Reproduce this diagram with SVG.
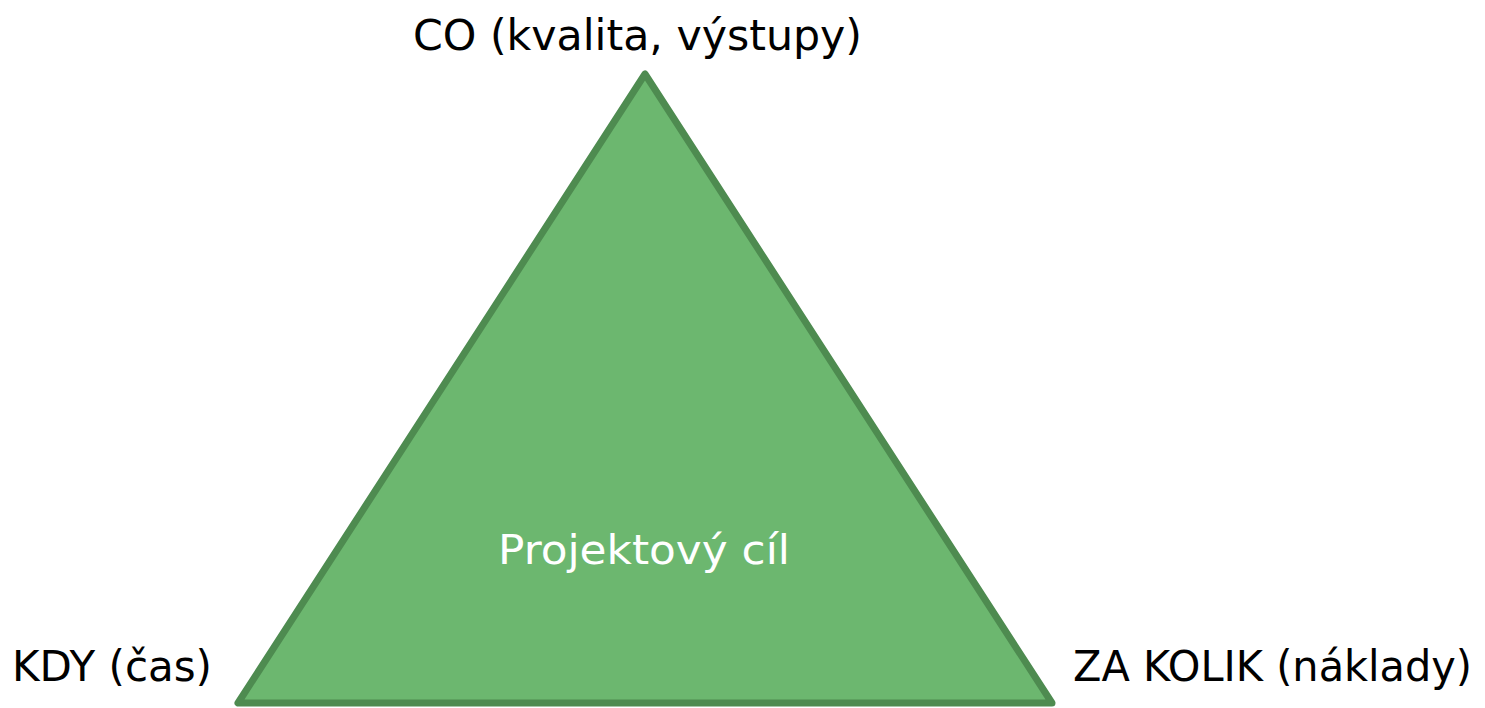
<svg xmlns="http://www.w3.org/2000/svg" width="1485" height="708" viewBox="0 0 1485 708">
<style>
.lbl{font-family:"DejaVu Sans","Liberation Sans",sans-serif;font-size:42px;fill:#000}
.in{font-family:"DejaVu Sans","Liberation Sans",sans-serif;font-size:40px;fill:#fff}
</style>
<rect width="1485" height="708" fill="#fff"/>
<g id="triangle">
<polygon points="645,74 238,703 1052,703" fill="#6cb76f" stroke="#4e8b50" stroke-width="7" stroke-linejoin="round"/>
<text class="in" x="644" y="564" text-anchor="middle" textLength="292" lengthAdjust="spacingAndGlyphs">Projektový cíl</text>
</g>
<g id="top"><text class="lbl" x="413" y="50" textLength="449" lengthAdjust="spacingAndGlyphs">CO (kvalita, výstupy)</text></g>
<g id="left"><text class="lbl" x="12" y="681" textLength="200" lengthAdjust="spacingAndGlyphs">KDY (čas)</text></g>
<g id="right"><text class="lbl" x="1073" y="681" textLength="399" lengthAdjust="spacingAndGlyphs">ZA KOLIK (náklady)</text></g>
<g id="connectors"/>
</svg>
